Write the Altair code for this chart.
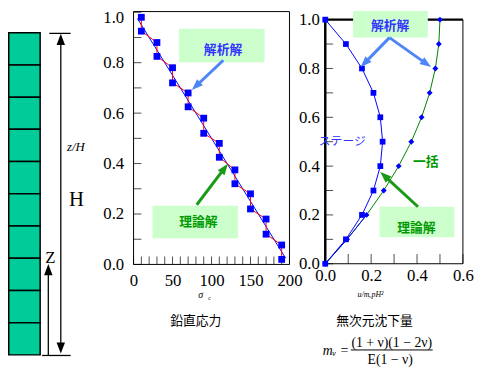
import math
import altair as alt
import pandas as pd

# ---------------- data ----------------
# left panel: vertical stress (鉛直応力)
sigma_sq = [10, 10, 30, 30, 50, 50, 70, 70, 90, 90, 110, 110, 130, 130, 150, 150, 170, 170, 190, 190]
z_sq = [0.98, 0.925, 0.88, 0.825, 0.78, 0.72, 0.68, 0.625, 0.58, 0.52,
        0.48, 0.425, 0.375, 0.32, 0.28, 0.22, 0.18, 0.12, 0.077, 0.02]
sigma_theory = [5, 195]
z_theory = [0.975, 0.025]

# right panel: dimensionless settlement (無次元沈下量)
stage_u = [0.0, 0.09, 0.16, 0.21, 0.24, 0.25, 0.24, 0.21, 0.16, 0.09, 0.0]
stage_z = [1.0, 0.9, 0.8, 0.7, 0.6, 0.5, 0.4, 0.3, 0.2, 0.1, 0.0]
lump_u = [0.0, 0.095, 0.18, 0.255, 0.32, 0.375, 0.42, 0.455, 0.48, 0.495, 0.5]
lump_z = [0.0, 0.1, 0.2, 0.3, 0.4, 0.5, 0.6, 0.7, 0.8, 0.9, 1.0]
lump_low_u = [0.0, 0.095, 0.18]
lump_low_z = [0.0, 0.1, 0.2]

# axis values
sigma_labels = [0, 50, 100, 150, 200]
sigma_ticks = [0, 10, 20, 30, 40, 50, 60, 70, 80, 90, 100, 110, 120, 130, 140, 150, 160, 170, 180, 190, 200]
z_labels = [0.0, 0.2, 0.4, 0.6, 0.8, 1.0]
z_ticks = [0.0, 0.1, 0.2, 0.3, 0.4, 0.5, 0.6, 0.7, 0.8, 0.9, 1.0]
u_labels = [0.0, 0.2, 0.4, 0.6]
u_ticks = [0.0, 0.1, 0.2, 0.3, 0.4, 0.5, 0.6]

# ---------------- layout (pixels) ----------------
W, H = 475, 365
LX0, LX1, LY0, LY1 = 127.7, 286.3, 257.7, 1.2
RX0, RX1, RY0, RY1 = 322.7, 462.7, 257.0, 8.7
SERIF = "Liberation Serif"
JP = "Noto Sans CJK JP"
BLUE = "#0000ff"
HEAD = "M0,-1L0.75,1L-0.75,1Z"
TOP_LABEL_SHIFT = {"condition": {"test": "datum.value >= 1", "value": 5}, "value": 0}


def lx():
    return alt.Scale(domain=[0, 200], range=[LX0, LX1], nice=False, zero=False)


def ly():
    return alt.Scale(domain=[0, 1], range=[LY0, LY1], nice=False, zero=False)


def rx():
    return alt.Scale(domain=[0, 0.6], range=[RX0, RX1], nice=False, zero=False)


def ry():
    return alt.Scale(domain=[0, 1], range=[RY0, RY1], nice=False, zero=False)


def px(col):
    return alt.X(f"{col}:Q", scale=None, axis=None)


def py(col):
    return alt.Y(f"{col}:Q", scale=None, axis=None)


def rules(rows, **mk):
    df = pd.DataFrame(rows, columns=["x", "y", "x2", "y2"])
    return alt.Chart(df).mark_rule(**mk).encode(
        x=px("x"), y=py("y"), x2=alt.X2("x2:Q"), y2=alt.Y2("y2:Q"))


def rects(rows, **mk):
    df = pd.DataFrame(rows, columns=["x", "y", "x2", "y2"])
    return alt.Chart(df).mark_rect(**mk).encode(
        x=px("x"), y=py("y"), x2=alt.X2("x2:Q"), y2=alt.Y2("y2:Q"))


def texts(rows, **mk):
    df = pd.DataFrame(rows, columns=["x", "y", "t"])
    return alt.Chart(df).mark_text(**mk).encode(x=px("x"), y=py("y"), text="t:N")


def heads(rows, color, size):
    df = pd.DataFrame(rows, columns=["x", "y", "a"])
    return alt.Chart(df).mark_point(shape=HEAD, size=size, filled=True, color=color,
                                    opacity=1, strokeWidth=0).encode(
        x=px("x"), y=py("y"), angle=alt.Angle("a:Q", scale=None))


def arrows(pairs, color, width, size):
    r, h = [], []
    back = math.sqrt(size) / 2
    for (tx, ty), (hx, hy) in pairs:
        dx, dy = hx - tx, hy - ty
        L = math.hypot(dx, dy)
        cx, cy = hx - dx / L * back, hy - dy / L * back
        r.append((tx, ty, cx, cy))
        h.append((cx, cy, math.degrees(math.atan2(dx, -dy)) % 360))
    return [rules(r, color=color, strokeWidth=width), heads(h, color, size)]


def xaxis(values, fmt, pad, y_px):
    return alt.Axis(values=values, format=fmt, title=None, grid=False, domain=False, ticks=False,
                    tickSize=0, orient="bottom", labelFont=SERIF, labelFontSize=17, labelColor="black",
                    labelPadding=pad, labelFlush=False, labelOverlap=False, labelBound=False,
                    offset=y_px - H)


def yaxis(values, fmt, pad, x_px, label_offset=0):
    return alt.Axis(values=values, format=fmt, title=None, grid=False, domain=False, ticks=False,
                    tickSize=0, orient="left", labelFont=SERIF, labelFontSize=17, labelColor="black",
                    labelPadding=pad, labelFlush=False, labelOverlap=False, labelBound=False,
                    labelOffset=label_offset, offset=-x_px)


layers = []

# ---------------- left diagram ----------------
cell_h = (349.7 - 22.0) / 10
cells = [(0.75, 22.0 + i * cell_h, 32.7, 22.0 + (i + 1) * cell_h) for i in range(10)]
layers.append(rects(cells, fill="#00cc99", stroke="black", strokeWidth=1.5))
layers.append(rules([(53.7, 28, 53.7, 343), (42, 22.7, 63.7, 22.7),
                     (34.7, 350.3, 63.7, 350.3), (41, 350, 41, 264)],
                    color="black", strokeWidth=1.3))
layers.append(heads([(53.7, 28.7, 0), (53.7, 342.7, 180), (41, 263, 0)], "black", 130))
layers.append(texts([(60, 138, "z/H")], font=SERIF, fontSize=13, fontStyle="italic",
                    align="left", baseline="middle", color="black"))
layers.append(texts([(69.5, 192, "H")], font=SERIF, fontSize=21, baseline="middle", color="black"))
layers.append(texts([(43, 251, "Z")], font=SERIF, fontSize=17, baseline="middle", color="black"))

# ---------------- left panel ----------------
layers.append(rects([(LX0, 0.5, LX1, LY0)], fill=None, stroke="black", strokeWidth=1))
layers.append(
    alt.Chart(pd.DataFrame({"s": sigma_ticks})).mark_tick(orient="vertical", size=8, thickness=1, color="black")
    .encode(x=alt.X("s:Q", scale=lx(), axis=None), y=alt.value(LY0 - 4)))
layers.append(
    alt.Chart(pd.DataFrame({"z": z_ticks})).mark_tick(orient="horizontal", size=8, thickness=1, color="black")
    .encode(y=alt.Y("z:Q", scale=ly(), axis=None), x=alt.value(LX0 + 4)))

left_theory = pd.DataFrame({"s": sigma_theory, "z": z_theory})
layers.append(alt.Chart(left_theory).mark_line(color=BLUE, strokeWidth=1).encode(
    x=alt.X("s:Q", scale=lx(), axis=None), y=alt.Y("z:Q", scale=ly(), axis=None)))

left_sq = pd.DataFrame({"s": sigma_sq, "z": z_sq, "i": list(range(len(sigma_sq)))})
layers.append(alt.Chart(left_sq).mark_line(color="#ff0000", strokeWidth=1).encode(
    x=alt.X("s:Q", scale=lx(), axis=None), y=alt.Y("z:Q", scale=ly(), axis=None), order="i:Q"))
layers.append(alt.Chart(left_sq).mark_square(size=48, color=BLUE, opacity=1).encode(
    x=alt.X("s:Q", scale=lx(), axis=xaxis(sigma_labels, "d", 8, LY0)),
    y=alt.Y("z:Q", scale=ly(), axis=yaxis(z_labels, ".1f", 10, LX0, TOP_LABEL_SHIFT))))

# ---------------- right panel ----------------
layers.append(rules([(RX1, RY1, RX1, RY0), (RX0, RY0, RX1, RY0)], color="black", strokeWidth=1))
layers.append(rules([(RX0, RY1 - 1, RX0, RY0), (RX0, RY1, RX1, RY1)], color="black", strokeWidth=2.5))
layers.append(
    alt.Chart(pd.DataFrame({"u": u_ticks})).mark_tick(orient="vertical", size=10, thickness=1, color="black")
    .encode(x=alt.X("u:Q", scale=rx(), axis=None), y=alt.value(RY0 - 5)))
layers.append(
    alt.Chart(pd.DataFrame({"z": z_ticks})).mark_tick(orient="horizontal", size=8, thickness=1, color="black")
    .encode(y=alt.Y("z:Q", scale=ry(), axis=None), x=alt.value(RX0 + 4)))

stage = pd.DataFrame({"u": stage_u, "z": stage_z, "i": list(range(len(stage_u)))})
lump = pd.DataFrame({"u": lump_u, "z": lump_z, "i": list(range(len(lump_u)))})
lump_low = pd.DataFrame({"u": lump_low_u, "z": lump_low_z, "i": list(range(len(lump_low_u)))})

layers.append(alt.Chart(lump).mark_line(color="#008000", strokeWidth=1).encode(
    x=alt.X("u:Q", scale=rx(), axis=None), y=alt.Y("z:Q", scale=ry(), axis=None), order="i:Q"))
layers.append(alt.Chart(lump_low).mark_line(color=BLUE, strokeWidth=1).encode(
    x=alt.X("u:Q", scale=rx(), axis=None), y=alt.Y("z:Q", scale=ry(), axis=None), order="i:Q"))
layers.append(alt.Chart(stage).mark_line(color=BLUE, strokeWidth=1).encode(
    x=alt.X("u:Q", scale=rx(), axis=None), y=alt.Y("z:Q", scale=ry(), axis=None), order="i:Q"))
layers.append(alt.Chart(lump).mark_point(shape="diamond", size=36, filled=True, color=BLUE, opacity=1).encode(
    x=alt.X("u:Q", scale=rx(), axis=None), y=alt.Y("z:Q", scale=ry(), axis=None)))
layers.append(alt.Chart(stage).mark_square(size=34, color=BLUE, opacity=1).encode(
    x=alt.X("u:Q", scale=rx(), axis=xaxis(u_labels, ".1f", 4, RY0)),
    y=alt.Y("z:Q", scale=ry(), axis=yaxis(z_labels, ".1f", 6, RX0))))

# ---------------- annotations ----------------
layers.append(rects([(174, 18, 261, 52), (147, 198, 234, 231), (351, 0, 427, 27), (378, 199, 454, 230)],
                    fill="#ccffcc", strokeWidth=0))
layers += arrows([((219, 50), (187, 80.3)),
                  ((388, 27), (358.7, 57)),
                  ((388, 27), (430.3, 57))], "#4f86f7", 3, 130)
layers += arrows([((192, 197), (223.7, 155.3)),
                  ((417, 199), (378.7, 163.7))], "#189a18", 3, 130)
layers.append(texts([(218.7, 39.3, "解析解"), (388.7, 15.3, "解析解")], font=JP, fontSize=13,
                    fontWeight="bold", color="#3333ff", baseline="middle"))
layers.append(texts([(193.7, 214.7, "理論解"), (415.3, 220.3, "理論解")], font=JP, fontSize=13,
                    fontWeight="bold", color="#009900", baseline="middle"))
layers.append(texts([(340, 132, "ステージ")], font=JP, fontSize=12, color="#3333ff", baseline="middle"))
layers.append(texts([(425, 154, "一括")], font=JP, fontSize=13, fontWeight="bold",
                    color="#009900", baseline="middle"))

# ---------------- bottom captions ----------------
layers.append(texts([(196, 289, "σ")], font=SERIF, fontSize=10, fontStyle="italic",
                    color="black", baseline="middle"))
layers.append(texts([(205, 292, "c")], font=SERIF, fontSize=6, color="black", baseline="middle"))
layers.append(texts([(368.7, 289, "u/mᵥpH²")], font=SERIF, fontSize=8, fontStyle="italic",
                    color="black", baseline="middle"))
layers.append(texts([(191, 315, "鉛直応力"), (372.8, 315, "無次元沈下量")], font=JP, fontSize=13,
                    color="black", baseline="middle"))
layers.append(texts([(390.3, 337.8, "(1 + ν)(1 − 2ν)"), (388.7, 355, "E(1 − ν)")], font=SERIF,
                    fontSize=14, color="black", baseline="middle"))
layers.append(texts([(347, 346, "mᵥ =")], font=SERIF, fontSize=14, fontStyle="italic",
                    color="black", baseline="middle", align="right"))
layers.append(rules([(348.7, 344.7, 432, 344.7)], color="black", strokeWidth=1))

chart = alt.layer(*layers).resolve_scale(x="independent", y="independent").properties(
    width=W, height=H, autosize=alt.AutoSizeParams(type="none"), padding=0, background="white"
).configure_view(stroke=None)

chart.save("out.html", embed_options={"renderer": "svg", "actions": False})
